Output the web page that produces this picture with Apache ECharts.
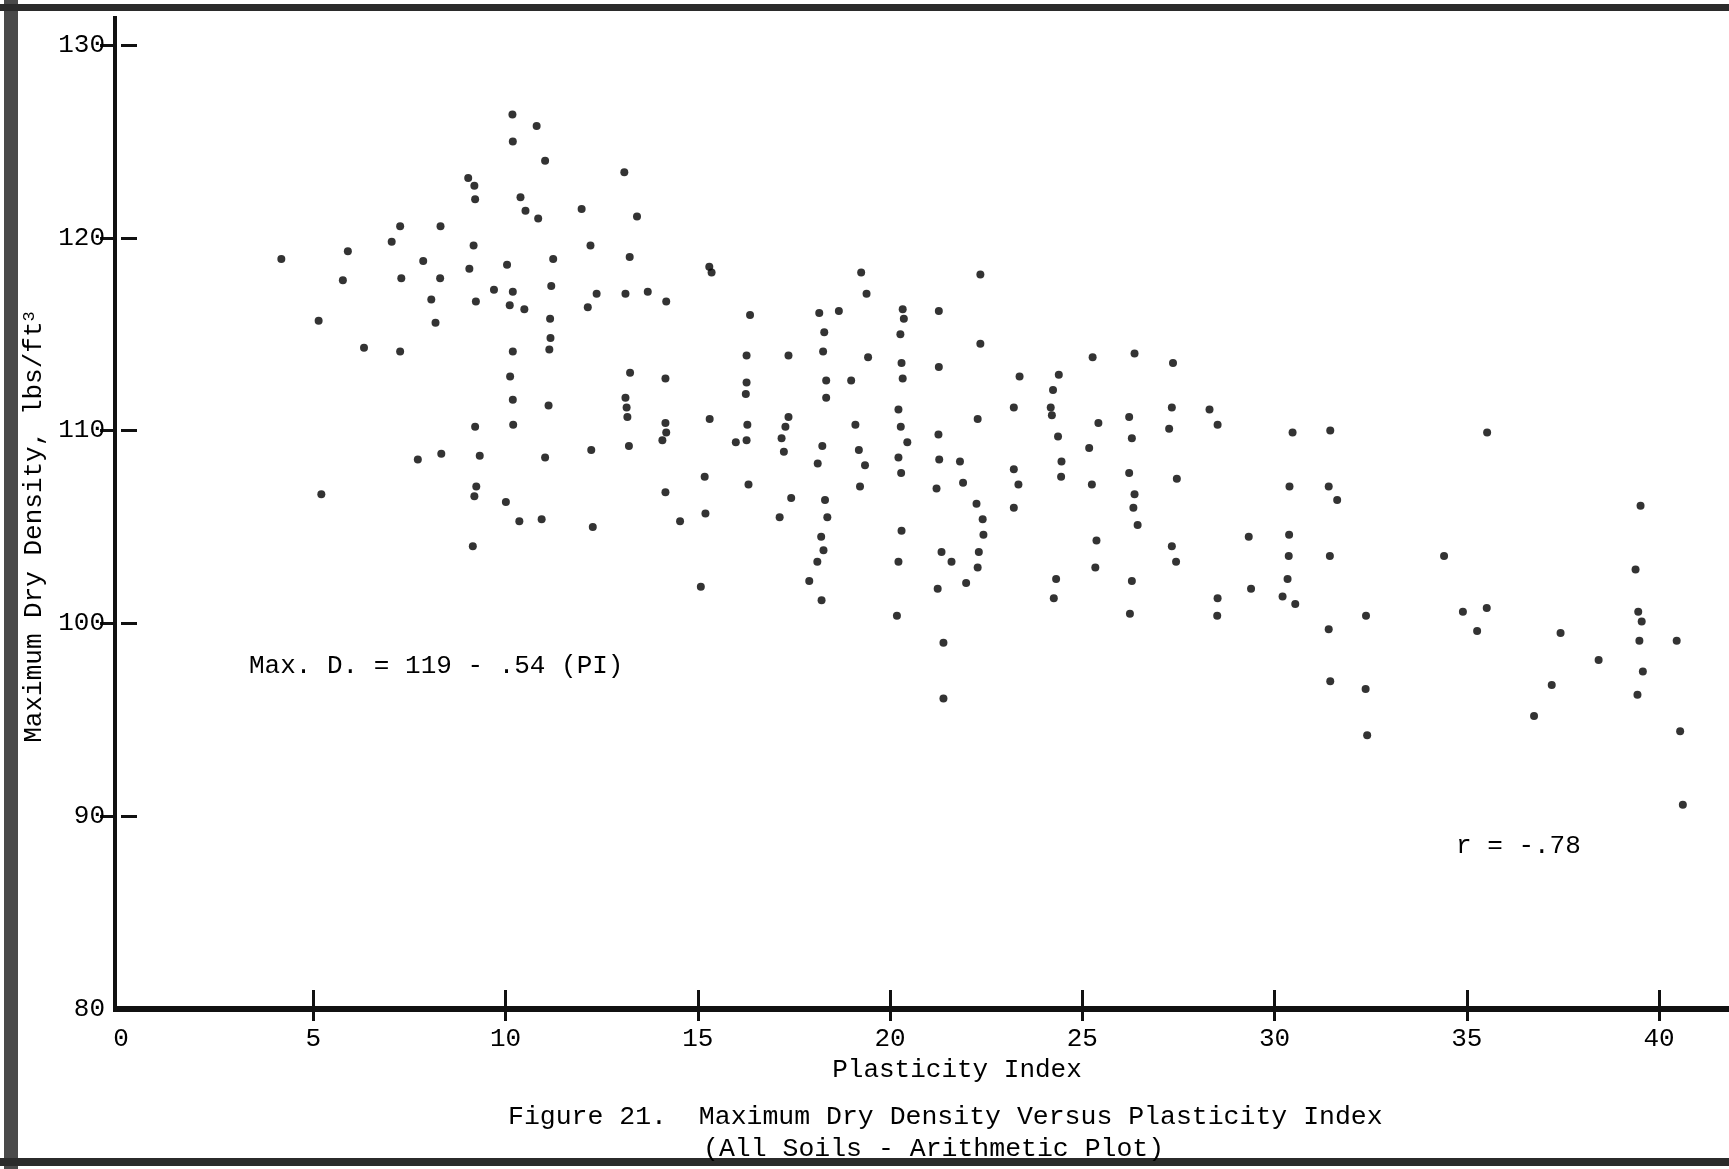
<!DOCTYPE html>
<html>
<head>
<meta charset="utf-8">
<script src="https://cdn.jsdelivr.net/npm/echarts@6/dist/echarts.min.js"></script>
<style>
  html, body { margin: 0; padding: 0; background: #fff; }
  #chart { width: 1729px; height: 1169px; }
</style>
</head>
<body>
<div id="chart"></div>
<script>
// Plasticity Index (x) and Maximum Dry Density (y)
const plasticityIndex = [
  10.18,10.81,10.19,11.03,13.09,9.03,9.19,9.21,10.39,10.52,10.85,11.98,13.42,7.26,8.31,7.04,5.90,4.17,9.17,7.86,
  9.06,10.04,11.24,12.21,13.23,5.77,7.29,8.30,9.70,10.19,11.19,12.37,13.12,12.14,8.07,9.23,10.11,10.49,11.16,5.14,
  8.18,11.17,6.32,7.26,10.19,11.14,13.24,10.12,13.12,13.15,13.17,10.19,11.12,10.20,9.21,13.21,12.23,11.03,9.33,8.33,
  7.72,9.24,5.21,9.19,10.01,10.36,10.94,12.27,9.15,
  15.30,15.36,13.70,14.18,19.25,22.35,19.39,16.36,18.16,18.67,20.33,20.36,21.27,18.29,20.27,22.35,16.27,17.36,18.26,19.43,
  20.30,21.27,14.16,16.27,16.25,18.34,18.99,20.33,18.34,15.31,14.16,14.18,14.08,16.29,16.27,15.99,17.36,17.28,17.18,17.24,
  19.10,19.19,19.35,18.24,18.12,20.22,20.28,20.45,20.22,20.29,21.26,21.28,21.82,22.28,15.18,16.32,19.22,21.21,21.90,
  14.16,14.54,15.20,15.08,17.43,17.13,18.31,18.37,18.21,18.27,18.11,17.90,18.22,20.30,20.22,20.18,21.34,21.60,21.24,21.39,
  21.39,22.25,22.41,22.43,22.31,22.28,21.98,
  25.27,26.36,27.36,23.37,24.39,24.24,23.22,24.18,24.21,27.33,28.31,28.52,25.42,26.22,27.26,24.37,26.29,25.18,30.47,31.45,
  24.46,23.22,24.45,23.34,25.25,26.22,27.46,30.39,31.41,31.63,23.22,26.36,26.33,26.44,25.37,25.34,24.32,24.26,26.29,26.24,
  27.33,27.44,29.33,29.39,28.52,28.51,30.38,30.37,30.34,30.21,30.54,31.44,32.38,31.41,31.45,32.37,32.41,
  35.53,39.52,34.41,39.39,34.90,35.52,35.27,39.46,39.55,39.49,40.46,37.44,38.43,37.21,36.75,39.58,39.44,40.55,40.62
];
const maxDryDensity = [
  126.4,125.8,125.0,124.0,123.4,123.1,122.7,122.0,122.1,121.4,121.0,121.5,121.1,120.6,120.6,119.8,119.3,118.9,119.6,118.8,
  118.4,118.6,118.9,119.6,119.0,117.8,117.9,117.9,117.3,117.2,117.5,117.1,117.1,116.4,116.8,116.7,116.5,116.3,115.8,115.7,
  115.6,114.8,114.3,114.1,114.1,114.2,113.0,112.8,111.7,111.2,110.7,111.6,111.3,110.3,110.2,109.2,109.0,108.6,108.7,108.8,
  108.5,107.1,106.7,106.6,106.3,105.3,105.4,105.0,104.0,
  118.5,118.2,117.2,116.7,118.2,118.1,117.1,116.0,116.1,116.2,116.3,115.8,116.2,115.1,115.0,114.5,113.9,113.9,114.1,113.8,
  113.5,113.3,112.7,112.5,111.9,112.6,112.6,112.7,111.7,110.6,110.4,109.9,109.5,110.3,109.5,109.4,110.7,110.2,109.6,108.9,
  110.3,109.0,108.2,109.2,108.3,111.1,110.2,109.4,108.6,107.8,109.8,108.5,108.4,110.6,107.6,107.2,107.1,107.0,107.3,
  106.8,105.3,105.7,101.9,106.5,105.5,106.4,105.5,104.5,103.8,103.2,102.2,101.2,104.8,103.2,100.4,103.7,103.2,101.8,99.0,
  96.1,106.2,105.4,104.6,103.7,102.9,102.1,
  113.8,114.0,113.5,112.8,112.9,112.1,111.2,111.2,110.8,111.2,111.1,110.3,110.4,110.7,110.1,109.7,109.6,109.1,109.9,110.0,
  108.4,108.0,107.6,107.2,107.2,107.8,107.5,107.1,107.1,106.4,106.0,106.7,106.0,105.1,104.3,102.9,102.3,101.3,102.2,100.5,
  104.0,103.2,104.5,101.8,101.3,100.4,104.6,103.5,102.3,101.4,101.0,103.5,100.4,99.7,97.0,96.6,94.2,
  109.9,106.1,103.5,102.8,100.6,100.8,99.6,100.6,100.1,99.1,99.1,99.5,98.1,96.8,95.2,97.5,96.3,94.4,90.6
];
const xTickLabels = [0, 5, 10, 15, 20, 25, 30, 35, 40];
const xTickMarks = [5, 10, 15, 20, 25, 30, 35, 40];
const yTickLabels = [80, 90, 100, 110, 120, 130];
const yTickMarks = [90, 100, 110, 120, 130];

const FONT = '"Liberation Mono", "DejaVu Sans Mono", monospace';
const points = plasticityIndex.map((v, i) => [v, maxDryDensity[i]]);

const chart = echarts.init(document.getElementById('chart'), null, { renderer: 'canvas' });
const xMax = (1729 - 121) / 38.45;

chart.setOption({
  backgroundColor: '#ffffff',
  animation: false,
  grid: { left: 121, right: 0, top: 45, bottom: 160, containLabel: false },
  xAxis: [
    {
      type: 'value', min: 0, max: xMax, interval: 5,
      name: 'Plasticity Index', nameLocation: 'middle', nameGap: 47,
      nameTextStyle: { fontFamily: FONT, fontSize: 26, color: '#000', padding: [0, 0, 0, 64] },
      axisLine: { show: true, onZero: false, lineStyle: { color: '#111', width: 6 } },
      axisTick: { show: true, inside: false, length: 12, customValues: xTickMarks, lineStyle: { color: '#111', width: 3 } },
      axisLabel: { show: true, margin: 17, fontFamily: FONT, fontSize: 26, color: '#000', customValues: xTickLabels },
      splitLine: { show: false }
    },
    {
      type: 'value', min: 0, max: xMax, interval: 5, position: 'bottom',
      axisLine: { show: false },
      axisTick: { show: true, inside: true, length: 19, customValues: xTickMarks, lineStyle: { color: '#111', width: 3 } },
      axisLabel: { show: false },
      splitLine: { show: false }
    }
  ],
  yAxis: [
    {
      type: 'value', min: 80, max: 130, interval: 10, offset: 6,
      name: 'Maximum Dry Density, lbs/ft{s|3}', nameLocation: 'middle', nameGap: 58, nameRotate: 90,
      nameTextStyle: {
        fontFamily: FONT, fontSize: 26, color: '#000',
        rich: { s: { fontFamily: FONT, fontSize: 17, color: '#000', verticalAlign: 'top', lineHeight: 26 } }
      },
      axisLine: { show: true, onZero: false, lineStyle: { color: '#111', width: 4 } },
      axisTick: { show: true, inside: false, length: 15, customValues: yTickMarks, lineStyle: { color: '#111', width: 3 } },
      axisLabel: { show: true, margin: 10, fontFamily: FONT, fontSize: 26, color: '#000', customValues: yTickLabels },
      splitLine: { show: false }
    },
    {
      type: 'value', min: 80, max: 130, interval: 10, offset: 6, position: 'left',
      axisLine: { show: false },
      axisTick: { show: true, inside: true, length: 16, customValues: yTickMarks, lineStyle: { color: '#111', width: 3 } },
      axisLabel: { show: false },
      splitLine: { show: false }
    }
  ],
  series: [
    {
      type: 'scatter',
      xAxisIndex: 0, yAxisIndex: 0,
      data: points,
      symbol: 'circle',
      symbolSize: 8,
      itemStyle: { color: '#000' },
      silent: true
    }
  ],
  graphic: [
    // scanned page frame
    { type: 'rect', shape: { x: 4, y: 0, width: 14, height: 1169 }, style: { fill: '#4a4a4a' }, z: 100 },
    { type: 'rect', shape: { x: 0, y: 4, width: 1729, height: 7 }, style: { fill: '#2b2b2b' }, z: 100 },
    { type: 'rect', shape: { x: 0, y: 1158, width: 1729, height: 8 }, style: { fill: '#2b2b2b' }, z: 100 },
    // axis extensions beyond grid
    { type: 'line', shape: { x1: 115, y1: 16, x2: 115, y2: 46 }, style: { stroke: '#111', lineWidth: 4 }, z: 100 },
    { type: 'line', shape: { x1: 113, y1: 1009, x2: 124, y2: 1009 }, style: { stroke: '#111', lineWidth: 6 }, z: 100 },
    // annotations
    { type: 'text', x: 249, y: 666, style: { text: 'Max. D. = 119 - .54 (PI)', font: '26px ' + FONT, fill: '#000', verticalAlign: 'middle', textVerticalAlign: 'middle' }, z: 100 },
    { type: 'text', x: 1456, y: 846, style: { text: 'r = -.78', font: '26px ' + FONT, fill: '#000', verticalAlign: 'middle', textVerticalAlign: 'middle' }, z: 100 },
    // caption
    { type: 'text', x: 508, y: 1117, style: { text: 'Figure 21.  Maximum Dry Density Versus Plasticity Index', font: '26.5px ' + FONT, fill: '#000', verticalAlign: 'middle', textVerticalAlign: 'middle' }, z: 100 },
    { type: 'text', x: 703, y: 1149, style: { text: '(All Soils - Arithmetic Plot)', font: '26.5px ' + FONT, fill: '#000', verticalAlign: 'middle', textVerticalAlign: 'middle' }, z: 100 }
  ]
});
</script>
</body>
</html>
